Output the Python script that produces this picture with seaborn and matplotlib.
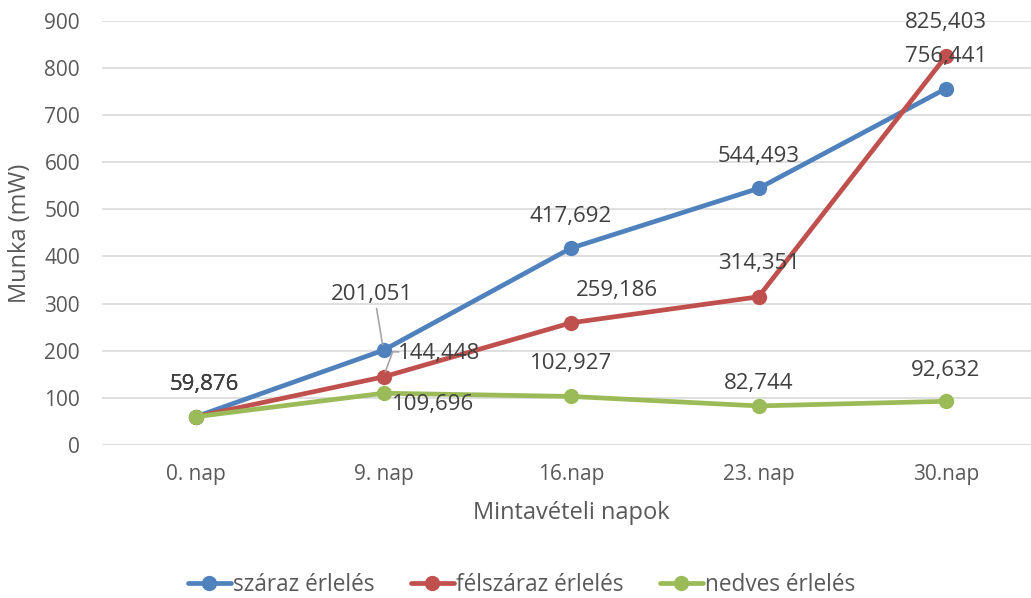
import matplotlib
matplotlib.use("Agg")
import matplotlib.pyplot as plt
import seaborn as sns
import pandas as pd

# Sampling days and measured work for each ripening method
days = ["0. nap", "9. nap", "16.nap", "23. nap", "30.nap"]
szaraz = [59.876, 201.051, 417.692, 544.493, 756.441]
felszaraz = [59.876, 144.448, 259.186, 314.351, 825.403]
nedves = [59.876, 109.696, 102.927, 82.744, 92.632]
series_names = ["száraz érlelés", "félszáraz érlelés", "nedves érlelés"]
y_ticks = [0, 100, 200, 300, 400, 500, 600, 700, 800, 900]

colors = ["#4F81BD", "#C0504D", "#9BBB59"]

sns.set_theme(style="white")
plt.rcParams["font.family"] = ["Open Sans", "DejaVu Sans"]

rows = []
for name, vals in zip(series_names, [szaraz, felszaraz, nedves]):
    for i, v in enumerate(vals):
        rows.append({"pos": i, "nap": days[i], "value": v, "sorozat": name})
df = pd.DataFrame(rows)

fig = plt.figure(figsize=(10.31, 5.98), dpi=100)
ax = fig.add_axes([0.0992, 0.256, 0.9093, 0.709])

sns.lineplot(data=df, x="pos", y="value", hue="sorozat", hue_order=series_names,
             palette=colors, marker="o", markersize=11, markeredgewidth=0,
             linewidth=3.4, ax=ax, legend=False, sort=False, zorder=3)

ax.set_xlim(-0.5, 4.5)
ax.set_ylim(0, 900)
ax.set_yticks(y_ticks)
ax.set_xticks(range(len(days)))
ax.set_xticklabels(days)
ax.yaxis.grid(True, color="#D9D9D9", linewidth=1.2)
ax.xaxis.grid(False)
for s in ax.spines.values():
    s.set_visible(False)
ax.tick_params(axis="both", length=0, labelsize=15, labelcolor="#595959")
ax.tick_params(axis="x", pad=14)
ax.tick_params(axis="y", pad=16)
ax.set_xlabel("Mintavételi napok", fontsize=17, color="#595959", labelpad=11)
ax.set_ylabel("Munka (mW)", fontsize=17, color="#595959", labelpad=9)


def fmt(v):
    return f"{v:.3f}".replace(".", ",")


# Data label offsets (points) per series and day
offsets = {
    0: [(6, 23), (-8, 40), (0, 23), (0, 23), (0, 23)],
    1: [(6, 23), (40, 17), (33, 23), (0, 24), (0, 24)],
    2: [(6, 23), (36, -8), (0, 24), (0, 16), (0, 22)],
}
label_kw = dict(textcoords="offset points", ha="center", va="center",
                fontsize=16, color="#404040", zorder=5)
for si, vals in enumerate([szaraz, felszaraz, nedves]):
    for i, v in enumerate(vals):
        dx, dy = offsets[si][i]
        ax.annotate(fmt(v), xy=(i, v), xytext=(dx, dy), **label_kw)

# Leader lines for the crowded labels at day 9
ax.annotate("", xy=(1, szaraz[1]), xytext=(-5, 30), textcoords="offset points",
            arrowprops=dict(arrowstyle="-", color="#A6A6A6", lw=1.2,
                            shrinkA=0, shrinkB=4), zorder=4)
ax.annotate("", xy=(1, felszaraz[1]), xytext=(11, 18), textcoords="offset points",
            arrowprops=dict(arrowstyle="-", color="#A6A6A6", lw=1.2,
                            shrinkA=0, shrinkB=4,
                            connectionstyle="angle,angleA=0,angleB=70,rad=0"),
            zorder=4)

handles = [plt.Line2D([], [], color=c, lw=3.4, marker="o", markersize=11,
                      markeredgewidth=0) for c in colors]
fig.legend(handles, series_names, loc="center", bbox_to_anchor=(0.506, 0.022),
           ncol=3, frameon=False, fontsize=16.3, handlelength=1.9,
           handletextpad=0.1, columnspacing=1.6, labelcolor="#595959")

fig.savefig("out.png", dpi=100)
